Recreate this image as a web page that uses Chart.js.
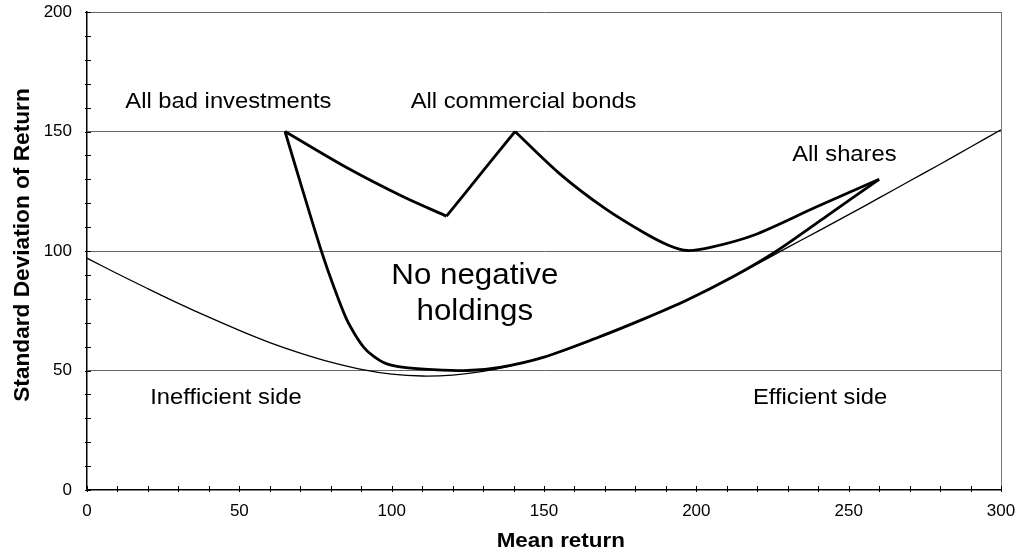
<!DOCTYPE html>
<html>
<head>
<meta charset="utf-8">
<script src="https://cdn.jsdelivr.net/npm/chart.js@4/dist/chart.umd.min.js"></script>
<style>
  html, body { margin: 0; padding: 0; background: #fff; }
  #wrap { width: 1025px; height: 559px; }
</style>
</head>
<body>
<div id="wrap"><canvas id="frontierChart" width="1025" height="559"></canvas></div>
<script>
// efficient frontier when negative holdings are allowed (thin line)
const frontierMean = [0, 10, 20, 30, 40, 50, 60, 70, 80, 90, 100, 110, 120, 130, 140, 150,
    160, 170, 180, 190, 200, 210, 220, 230, 240, 250, 260, 270, 280, 290, 300];
const frontierSd = [97, 90.5, 84.2, 78.1, 72.3, 66.8, 61.7, 57.3, 53.5, 50.5, 48.5, 47.7, 48.1, 49.6, 52.2, 55.6,
    59.9, 64.7, 70, 75.7, 81.5, 88, 94.6, 101.5, 108.3, 115.2, 122.2, 129.3, 136.3, 143.5, 150.7];

// no negative holdings region: lower edge, from all bad investments to all shares
const lowerMean = [65, 71, 77, 81, 85, 88, 91, 94, 98, 104, 112, 125, 135.5, 150, 168, 183, 197, 212, 226, 243, 260];
const lowerSd = [150, 124.5, 99.7, 85, 72, 65, 59.5, 56, 53, 51.3, 50.5, 50, 51.3, 55.6, 64, 71.7, 79.5, 89.2, 99.7, 114.8, 130];

// upper edge: bad investments -> dip -> commercial bonds
const badMean = [65, 85.8, 103.8, 118];
const badSd = [150, 134.5, 122.7, 114.6];
const bondRiseMean = [118, 130, 140.5];
const bondRiseSd = [114.6, 133.5, 150];

// commercial bonds -> low point -> all shares
const sharesMean = [140.5, 155, 170, 183, 191, 197, 205, 219, 239.5, 260];
const sharesSd = [150, 132.5, 117.8, 107.5, 102.3, 100.2, 101.6, 106.7, 118.5, 130];

const xTicks = [0, 50, 100, 150, 200, 250, 300];
const yTicks = [0, 50, 100, 150, 200];

const xTitle = "Mean return";
const yTitle = "Standard Deviation of Return";
const notes = ["All bad investments", "All commercial bonds", "All shares", "No negative", "holdings",
    "Inefficient side", "Efficient side"];

const pts = (xs, ys) => xs.map((x, i) => ({ x: x, y: ys[i] }));
const FONT = "'Liberation Sans', Arial, sans-serif";

function line(data, width, tension) {
    return {
        data: data,
        showLine: true,
        borderColor: "#000",
        borderWidth: width,
        pointRadius: 0,
        tension: tension,
        fill: false
    };
}

// small tick marks every 10 units, axis titles and the text labels inside the plot
const extras = {
    id: "extras",
    afterDraw(chart) {
        const ctx = chart.ctx;
        const xs = chart.scales.x, ys = chart.scales.y;
        const a = chart.chartArea;
        ctx.save();
        ctx.strokeStyle = "#000";
        ctx.lineWidth = 1;
        for (let v = 0; v <= 300; v += 10) {
            const px = Math.round(xs.getPixelForValue(v)) + 0.5;
            ctx.beginPath();
            ctx.moveTo(px, a.bottom - 4);
            ctx.lineTo(px, a.bottom + 2);
            ctx.stroke();
        }
        for (let v = 0; v <= 200; v += 10) {
            const py = Math.round(ys.getPixelForValue(v)) + 0.5;
            ctx.beginPath();
            ctx.moveTo(a.left - 2, py);
            ctx.lineTo(a.left + 4, py);
            ctx.stroke();
        }

        ctx.fillStyle = "#000";
        ctx.textAlign = "center";
        ctx.textBaseline = "middle";

        // axis titles
        ctx.save();
        ctx.translate(xs.getPixelForValue(155.5), a.bottom + 51);
        ctx.scale(1.12, 1);
        ctx.font = "bold 20px " + FONT;
        ctx.fillText(xTitle, 0, 0);
        ctx.restore();

        ctx.save();
        ctx.translate(23, ys.getPixelForValue(102.5));
        ctx.rotate(-Math.PI / 2);
        ctx.scale(1.03, 1);
        ctx.font = "bold 22px " + FONT;
        ctx.fillText(yTitle, 0, 0);
        ctx.restore();

        const spots = [
            [46.4, 162.3, 22], [143.3, 162.3, 22], [248.6, 140.2, 22],
            [127.3, 89.5, 29], [127.3, 74.5, 29],
            [45.6, 38.5, 22], [240.6, 38.5, 22]
        ];
        notes.forEach((t, i) => {
            const s = spots[i];
            ctx.save();
            ctx.translate(xs.getPixelForValue(s[0]), ys.getPixelForValue(s[1]));
            ctx.scale(1.08, 1);
            ctx.font = s[2] + "px " + FONT;
            ctx.fillText(t, 0, 0);
            ctx.restore();
        });
        ctx.restore();
    }
};

new Chart(document.getElementById("frontierChart"), {
    type: "scatter",
    data: {
        datasets: [
            line(pts(frontierMean, frontierSd), 1.3, 0.4),
            line(pts(lowerMean, lowerSd), 2.8, 0.3),
            line(pts(badMean, badSd), 2.8, 0.3),
            line(pts(bondRiseMean, bondRiseSd), 2.8, 0.2),
            line(pts(sharesMean, sharesSd), 2.8, 0.3)
        ]
    },
    options: {
        responsive: false,
        animation: false,
        events: [],
        layout: { padding: { left: 0, top: 12, right: 24, bottom: 0 } },
        plugins: { legend: { display: false }, tooltip: { enabled: false } },
        scales: {
            x: {
                type: "linear",
                min: 0,
                max: 300,
                afterBuildTicks: s => { s.ticks = xTicks.map(v => ({ value: v })); },
                afterFit: s => { s.height = 69; s.paddingLeft = 0; s.paddingRight = 0; },
                border: { color: "#000", width: 1.5 },
                grid: {
                    drawTicks: false,
                    color: c => (c.tick && c.tick.value === 300 ? "#777" : "rgba(0,0,0,0)"),
                    lineWidth: 1
                },
                ticks: { padding: 11, color: "#000", font: { family: FONT, size: 17 }, maxRotation: 0 },
                title: { display: false }
            },
            y: {
                type: "linear",
                min: 0,
                max: 200,
                afterBuildTicks: s => { s.ticks = yTicks.map(v => ({ value: v })); },
                afterFit: s => { s.width = 87; s.paddingTop = 0; s.paddingBottom = 0; },
                border: { color: "#000", width: 1.5 },
                grid: {
                    drawTicks: false,
                    color: c => (c.tick && c.tick.value === 0 ? "rgba(0,0,0,0)" : "#666"),
                    lineWidth: 1
                },
                ticks: { padding: 15, color: "#000", font: { family: FONT, size: 17 } },
                title: { display: false }
            }
        }
    },
    plugins: [extras]
});
</script>
</body>
</html>
